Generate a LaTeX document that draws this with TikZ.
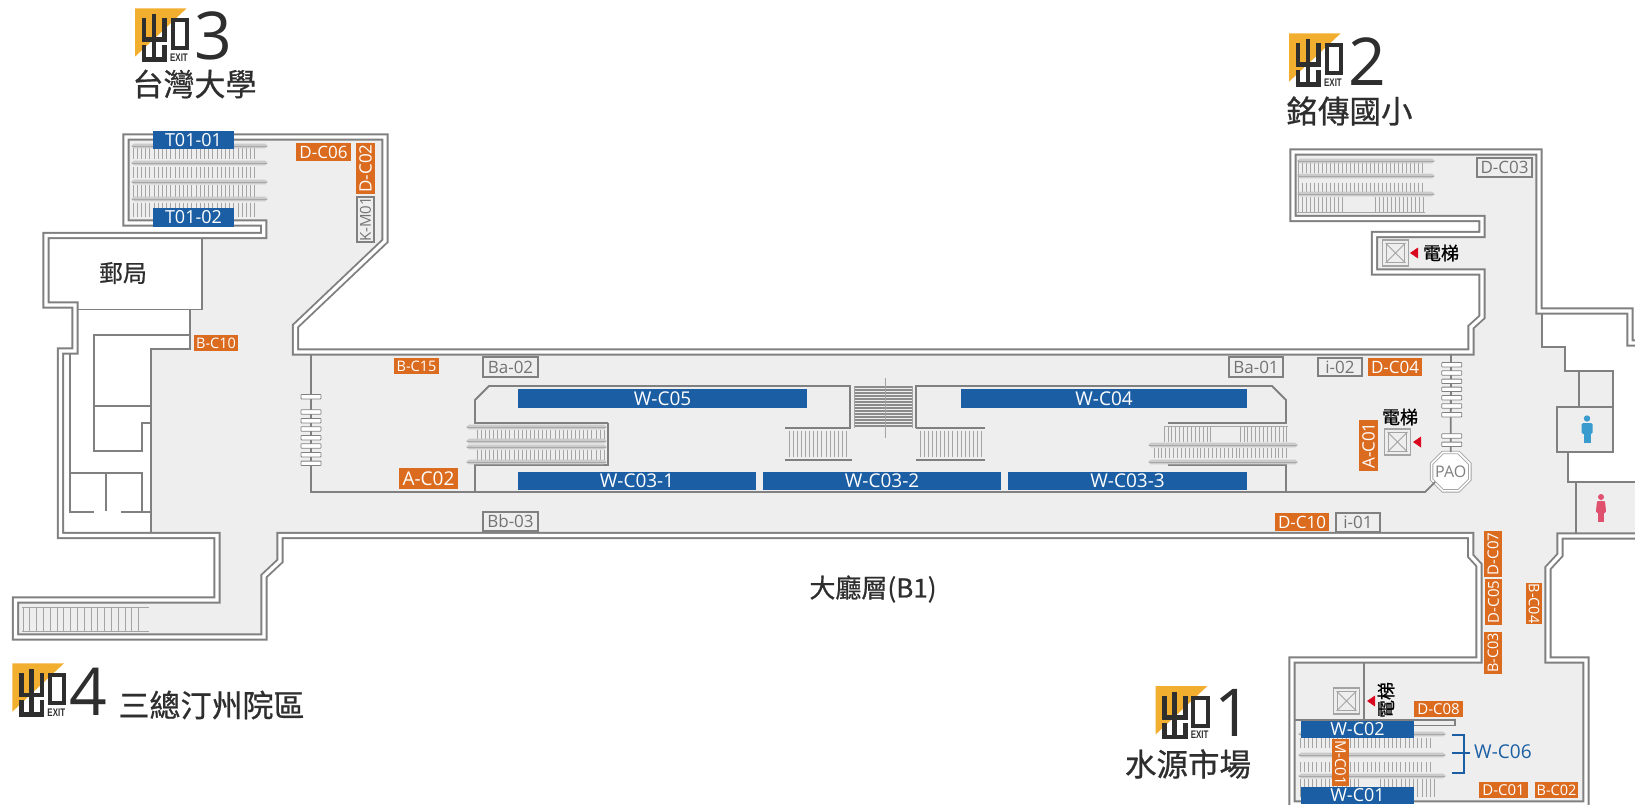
\documentclass[tikz,border=0pt]{standalone}
\usepackage{fontspec}
\usetikzlibrary{shapes.geometric}
\setmainfont{Open Sans}
\newfontfamily\cjk[FakeBold=0.7]{Noto Sans CJK TC}
\newfontfamily\numf{Open Sans}
\newfontfamily\exitf{Liberation Sans}
\definecolor{wallc}{HTML}{808080}
\definecolor{floorc}{HTML}{EEEEEE}
\definecolor{oran}{HTML}{DA6B1F}
\definecolor{blu}{HTML}{1B5EA3}
\definecolor{logoc}{HTML}{F2AE2E}
\definecolor{inkc}{HTML}{2E2E2E}
\definecolor{hatchc}{HTML}{A4A4A4}
\definecolor{railc}{HTML}{CBCBCB}
\definecolor{railk}{HTML}{A8A8A8}
\definecolor{redc}{HTML}{D9081E}
\definecolor{manc}{HTML}{3A9BCF}
\definecolor{womanc}{HTML}{E0506F}
\tikzset{
  wall/.style={draw=wallc,line width=1.9pt,double=white,double distance=3.3pt,line join=miter},
  inner/.style={draw=wallc,line width=1.8pt,line join=miter},
  orangebox/.style={fill=oran,text=white,inner sep=0pt,align=center},
  bluebox/.style={fill=blu,text=white,inner sep=0pt,align=center},
  greybox/.style={fill=floorc,draw=wallc,line width=1.5pt,text=wallc!90!black,inner sep=0pt,align=center},
  tread/.style={draw=wallc,line width=.8pt,fill=white,rounded corners=.6pt},
  hatchline/.style={draw=hatchc,line width=.7pt},
  exitlogo/.pic={
    \fill[logoc] (0,0) -- (51.7,0) -- (0,48.4) -- cycle;
    \begin{scope}[draw=inkc,line width=4.6pt,line cap=butt,line join=miter]
      \draw (9,10) -- (9,31.5) -- (29.5,31.5) -- (29.5,10);
      \draw (19,5.7) -- (19,53);
      \draw (9,37) -- (9,51) -- (29.5,51) -- (29.5,37);
      \draw[line width=4pt] (37.5,12) rectangle (52,40);
    \end{scope}
    \node[text=inkc,inner sep=0pt,xscale=.72] (-ex) at (44,49) {\exitf\bfseries\fontsize{11}{11}\selectfont EXIT};
  }
}
\newcommand\exitnum[4]{\node[text=inkc,inner sep=0pt] (#1) at (#2,#3) {\numf\fontsize{66}{66}\selectfont #4};}
\newcommand\cjktext[5]{\node[text=inkc,inner sep=0pt] (#1) at (#2,#3) {\cjk\fontsize{#4}{#4}\selectfont #5};}
% name, x1, y1, x2, y2, style, size, text
\newcommand\labH[8]{\node[#6,minimum width={(#4-#2)*1pt},minimum height={(#5-#3)*1pt}] (#1) at ({(#2+#4)/2},{(#3+#5)/2}) {\fontsize{#7}{#7}\selectfont #8};}
\newcommand\labV[9]{\node[#6,rotate=#9,minimum width={(#5-#3)*1pt},minimum height={(#4-#2)*1pt}] (#1) at ({(#2+#4)/2},{(#3+#5)/2}) {\fontsize{#7}{#7}\selectfont #8};}
% hatch: x1,x2,y1,y2,step
\newcommand\hatchrow[5]{\pgfmathsetmacro\hsec{#1+#5}\foreach \hx in {#1,\hsec,...,#2} \draw[hatchline] (\hx,#3) -- (\hx,#4);}
% rail: x1,x2,y
\newcommand\railbar[3]{\fill[railc] (#1,#3) -- (#1+3,#3-2.4) -- (#2-3,#3-2.4) -- (#2,#3) -- (#2-3,#3+2.4) -- (#1+3,#3+2.4) -- cycle;
  \draw[railk,line width=.7pt] (#1+1,#3) -- (#2-1,#3);}
% lift: name,cx,cy
\newcommand\liftbox[3]{\node[draw=hatchc,line width=1.7pt,fill=floorc,minimum size=26pt,inner sep=0pt] (#1) at (#2,#3) {};
  \node[draw=hatchc,line width=1.3pt,fill=floorc,minimum size=18.5pt,inner sep=0pt] (#1i) at (#2,#3) {};
  \draw[hatchc,line width=1pt] (#1i.north west) -- (#1i.south east) (#1i.north east) -- (#1i.south west);}
\newcommand\redtri[2]{\fill[redc] (#1,#2) -- (#1+8,#2-5.5) -- (#1+8,#2+5.5) -- cycle;}
\begin{document}
\begin{tikzpicture}[x=1pt,y=-1pt]
\useasboundingbox (0,0) rectangle (1635,805);
\clip (0,0) rectangle (1635,805);
\fill[white] (0,0) rectangle (1635,805);
% ---------- floor
\def\floorpath{(126,137) -- (385,137) -- (385,241) -- (295.5,326) -- (295.5,352) -- (1471,352) -- (1471,327) -- (1482,317) -- (1482,272) -- (1374.5,272) -- (1374.5,234.5) -- (1482,234.5) -- (1482,218.5) -- (1293,218.5) -- (1293,152) -- (1539,152) -- (1539,311) -- (1630,311) -- (1630,343) -- (1650,343) -- (1650,536) -- (1560,536) -- (1560,555) -- (1548,568) -- (1548,660) -- (1586,660) -- (1586,804) -- (1292,804) -- (1292,660) -- (1479,660) -- (1479,565) -- (1470.7,556) -- (1470.7,535.5) -- (280,535.5) -- (280,561) -- (264,576) -- (264,637) -- (15.5,637) -- (15.5,600) -- (217,600) -- (217,535.5) -- (60.5,535.5) -- (60.5,351) -- (75,351) -- (75,305) -- (46,305) -- (46,235.5) -- (263.7,235.5) -- (263.7,223) -- (126,223) -- cycle}
\fill[floorc] \floorpath;
% white back rooms
\fill[white] (46,235.5) -- (201.7,235.5) -- (201.7,309.5) -- (190,309.5) -- (190,349) -- (151,349) -- (151,535.5) -- (60.5,535.5) -- (60.5,351) -- (75,351) -- (75,305) -- (46,305) -- cycle;
\fill[white] (1542,311) -- (1640,311) -- (1640,482) -- (1567,482) -- (1567,452) -- (1613,452) -- (1613,371) -- (1565,371) -- (1565,347) -- (1542,347) -- cycle;
\draw[wall] \floorpath;
% ---------- interior walls, left
\draw[inner] (201.7,238) -- (201.7,309.5) -- (78,309.5);
\draw[inner] (190,309.5) -- (190,349) -- (151,349) -- (151,533);
\draw[inner] (190,335) -- (94,335) -- (94,451) -- (142,451) -- (142,423) -- (151,423);
\draw[inner] (94,406) -- (151,406);
\draw[inner] (70.3,354) -- (70.3,511.7) -- (94,511.7);
\draw[inner] (70.3,472.7) -- (142,472.7) -- (142,511.7);
\draw[inner] (121,511.7) -- (151,511.7);
\draw[inner] (106,472.7) -- (106,511);
% ---------- interior walls, right
\draw[inner] (1542,314) -- (1542,347) -- (1565,347) -- (1565,371) -- (1613,371) -- (1613,452) -- (1557,452) -- (1557,407) -- (1613,407);
\draw[inner] (1579,371) -- (1579,407);
\draw[inner] (1568,452) -- (1568,482) -- (1640,482);
\draw[inner] (1576,482) -- (1576,533);
% ---------- concourse
\node[regular polygon,regular polygon sides=8,minimum size=41.5pt,inner sep=0pt,fill=white,draw=hatchc,line width=.9pt,double=white,double distance=1.6pt] (pao) at (1450.7,471.7) {};
\node[text=wallc,inner sep=0pt] (paot) at (1450.7,471.7) {\fontsize{16}{16}\selectfont PAO};
\draw[inner] (311,354) -- (311,492) -- (1425,492) -- (1435,482);
\draw[inner] (1451,355) -- (pao.north);
\foreach \ty in {364.7,373,381.3,389.3,397.7,406,414.7,436,444.3}
  \draw[tread] (1441.7,\ty-2.2) rectangle (1461.7,\ty+2.2);
\foreach \ty in {396.7,412,420.7,429,437.7,446,454.7,463.3}
  \draw[tread] (301,\ty-2.2) rectangle (321,\ty+2.2);
% left island
\draw[inner] (608,423) -- (475,423) -- (475,400) -- (489,386) -- (850,386) -- (850,428) -- (785,428);
\draw[inner] (608,423) -- (608,465) -- (475,465) -- (475,492);
\draw[inner] (785,460) -- (852,460);
\hatchrow{789}{849}{431}{457}{4.1}
% right island
\draw[inner] (916,428) -- (916,386) -- (1272,386) -- (1286,400) -- (1286,423) -- (1168,423);
\draw[inner] (1168,465) -- (1286,465) -- (1286,492);
\draw[inner] (916,428) -- (985,428);
\draw[inner] (916,460) -- (985,460);
\hatchrow{920}{982}{431}{457}{4.1}
% central stair
\foreach \ty in {387,390,...,427} \draw[draw=hatchc!85!black,line width=1.1pt] (854,\ty) -- (912,\ty);
\draw[draw=hatchc,line width=1pt] (885,378) -- (885,438);
\draw[draw=hatchc,line width=1pt] (854,386) -- (854,428) (912,386) -- (912,428);
% left escalator
\hatchrow{477}{605}{430}{439}{4.1}
\hatchrow{477}{605}{450}{460}{4.1}
\railbar{466}{607}{427}
\railbar{466}{607}{441}
\railbar{466}{607}{447}
\railbar{466}{607}{462}
% right escalator
\hatchrow{1164}{1212}{426}{442}{3.9}
\hatchrow{1240}{1288}{426}{442}{3.9}
\hatchrow{1154}{1288}{448}{458}{3.9}
\railbar{1148}{1298}{445}
\railbar{1148}{1298}{462}
\draw[railk,line width=.8pt] (1164,426) -- (1288,426);
% ---------- exit 3 escalators
\hatchrow{133}{257}{147}{159}{4.2}
\hatchrow{133}{257}{167}{178}{4.2}
\hatchrow{133}{257}{185}{197}{4.2}
\hatchrow{133}{257}{203}{217}{4.2}
\railbar{131}{268}{146}
\railbar{131}{268}{163}
\railbar{131}{268}{182}
\railbar{131}{268}{199}
% ---------- exit 2 escalators
\hatchrow{1298}{1423}{163}{173}{4}
\hatchrow{1298}{1423}{183}{193}{4}
\hatchrow{1298}{1343}{197}{212}{4}
\hatchrow{1375}{1423}{197}{212}{4}
\railbar{1297}{1435}{161}
\railbar{1297}{1435}{176}
\railbar{1297}{1435}{194}
\draw[railk,line width=.9pt] (1297,212) -- (1425,212);
\draw[railk,line width=.9pt] (1298,160) -- (1298,212);
% ---------- exit 4 stair
\hatchrow{23}{140}{607}{631}{6.8}
\draw[hatchline] (22,607) -- (149,607) (22,631) -- (149,631);
% ---------- exit 1
\draw[inner] (1364,662) -- (1364,720);
\draw[inner,line width=1.5pt] (1295,720) -- (1455,720) -- (1455,725.5) -- (1414,725.5);
\hatchrow{1300}{1434}{738}{748}{4.2}
\hatchrow{1300}{1434}{762}{772}{4.2}
\hatchrow{1300}{1362}{779}{797}{4.2}
\hatchrow{1380}{1435}{779}{797}{4.2}
\railbar{1298}{1446}{734}
\railbar{1298}{1446}{755}
\railbar{1298}{1446}{776}
% ---------- lifts
\liftbox{liftb}{1395.5}{253}
\redtri{1410}{253}
\node[text=black,inner sep=0pt] (liftbt) at (1441,253) {\cjk\fontsize{18}{18}\selectfont 電梯};
\liftbox{liftc}{1397.5}{442}
\redtri{1413}{442}
\node[text=black,inner sep=0pt] (liftct) at (1400,417) {\cjk\fontsize{18}{18}\selectfont 電梯};
\liftbox{lifta}{1346.5}{701}
\redtri{1367}{701}
\node[text=black,inner sep=0pt,rotate=90] (liftat) at (1386,700) {\cjk\fontsize{18}{18}\selectfont 電梯};
% ---------- blue labels
\labH{wc05}{518}{389}{807}{408}{bluebox}{19}{W-C05}
\labH{wc04}{961}{389}{1247}{408}{bluebox}{19}{W-C04}
\labH{wc031}{518}{472}{756}{490}{bluebox}{19}{W-C03-1}
\labH{wc032}{763}{472}{1001}{490}{bluebox}{19}{W-C03-2}
\labH{wc033}{1008}{472}{1247}{490}{bluebox}{19}{W-C03-3}
\labH{t0101}{153}{131}{234}{149}{bluebox}{18}{T01-01}
\labH{t0102}{153}{208}{234}{227}{bluebox}{18}{T01-02}
\labH{wc02}{1301}{721}{1414}{738}{bluebox}{18}{W-C02}
\labH{wc01}{1301}{787}{1414}{804}{bluebox}{18}{W-C01}
% ---------- orange labels
\labH{dc06}{296}{143}{351}{161}{orangebox}{17}{D-C06}
\labV{dc02}{356}{143}{375}{194}{orangebox}{17}{D-C02}{90}
\labH{bc10}{194}{335}{238}{351}{orangebox}{14.5}{B-C10}
\labH{bc15}{394}{358}{439}{374}{orangebox}{14.5}{B-C15}
\labH{ac02}{399}{468}{458}{489}{orangebox}{19}{A-C02}
\labH{dc04}{1368}{358}{1422}{376}{orangebox}{17}{D-C04}
\labH{dc10}{1275}{513}{1329}{531}{orangebox}{17}{D-C10}
\labV{ac01}{1359}{420}{1378}{471}{orangebox}{17}{A-C01}{90}
\labV{dc07}{1484}{531}{1502}{577}{orangebox}{15}{D-C07}{90}
\labV{dc05}{1485}{579}{1502}{625}{orangebox}{15}{D-C05}{90}
\labV{bc03}{1484}{632}{1502}{674}{orangebox}{14.5}{B-C03}{90}
\labV{bc04}{1526}{583}{1542}{624}{orangebox}{14.5}{B-C04}{-90}
\labH{dc08}{1414}{701}{1463}{717}{orangebox}{15}{D-C08}
\labH{dc01}{1479}{782}{1528}{798}{orangebox}{15}{D-C01}
\labH{bc02}{1535}{782}{1578}{798}{orangebox}{14.5}{B-C02}
\labV{mc01}{1332}{739}{1349}{786}{orangebox}{15}{M-C01}{-90}
% ---------- grey labels
\labV{km01}{357}{197}{374}{242}{greybox}{15}{K-M01}{90}
\labH{ba02}{483}{357}{538}{377}{greybox}{17}{Ba-02}
\labH{bb03}{483}{512}{538}{531}{greybox}{17}{Bb-03}
\labH{ba01}{1229}{357}{1283}{377}{greybox}{17}{Ba-01}
\labH{i02}{1318}{358}{1362}{376}{greybox}{17}{i-02}
\labH{i01}{1336}{513}{1380}{532}{greybox}{17}{i-01}
\labH{dc03}{1477}{158}{1532}{177}{greybox}{17}{D-C03}
% ---------- W-C06 bracket
\node[text=blu,inner sep=0pt,anchor=west] (wc06) at (1474,752) {\fontsize{19}{19}\selectfont W-C06};
\draw[draw=blu,line width=1.6pt] (1452,735) -- (1464,735) -- (1464,773) -- (1452,773);
\draw[draw=blu,line width=1.6pt] (1452,753) -- (1470,753);
% ---------- room names
\cjktext{post}{123}{273}{24}{郵局}
\node[text=inkc,inner sep=0pt] (hall) at (873,589) {\cjk\fontsize{26}{26}\selectfont 大廳層(B1)};
% ---------- men / women
\fill[manc] (1587,418.5) circle (3.2);
\fill[manc,rounded corners=1.5pt] (1581.5,423) rectangle (1592.5,434);
\fill[manc] (1583.5,430) rectangle (1590.5,443);
\fill[womanc] (1601,497) circle (3);
\fill[womanc,rounded corners=1pt] (1597,501) -- (1605,501) -- (1606,511) -- (1605.5,513) -- (1596.5,513) -- (1596,511) -- cycle;
\fill[womanc] (1598,512) rectangle (1604,522);
% ---------- exit markers
\pic (ex3) at (135,8.3) {exitlogo};
\exitnum{n3}{213}{36}{3}
\cjktext{t3}{194.5}{84}{31}{台灣大學}
\pic (ex2) at (1289,33.3) {exitlogo};
\exitnum{n2}{1367}{62}{2}
\cjktext{t2}{1349.5}{111}{31.5}{銘傳國小}
\pic (ex4) at (12.3,663.3) {exitlogo};
\exitnum{n4}{88}{692}{4}
\cjktext{t4}{211.5}{705}{31}{三總汀州院區}
\pic (ex1) at (1155.7,686) {exitlogo};
\exitnum{n1}{1233}{713}{1}
\cjktext{t1}{1188}{764}{31.5}{水源市場}
\end{tikzpicture}
\end{document}
